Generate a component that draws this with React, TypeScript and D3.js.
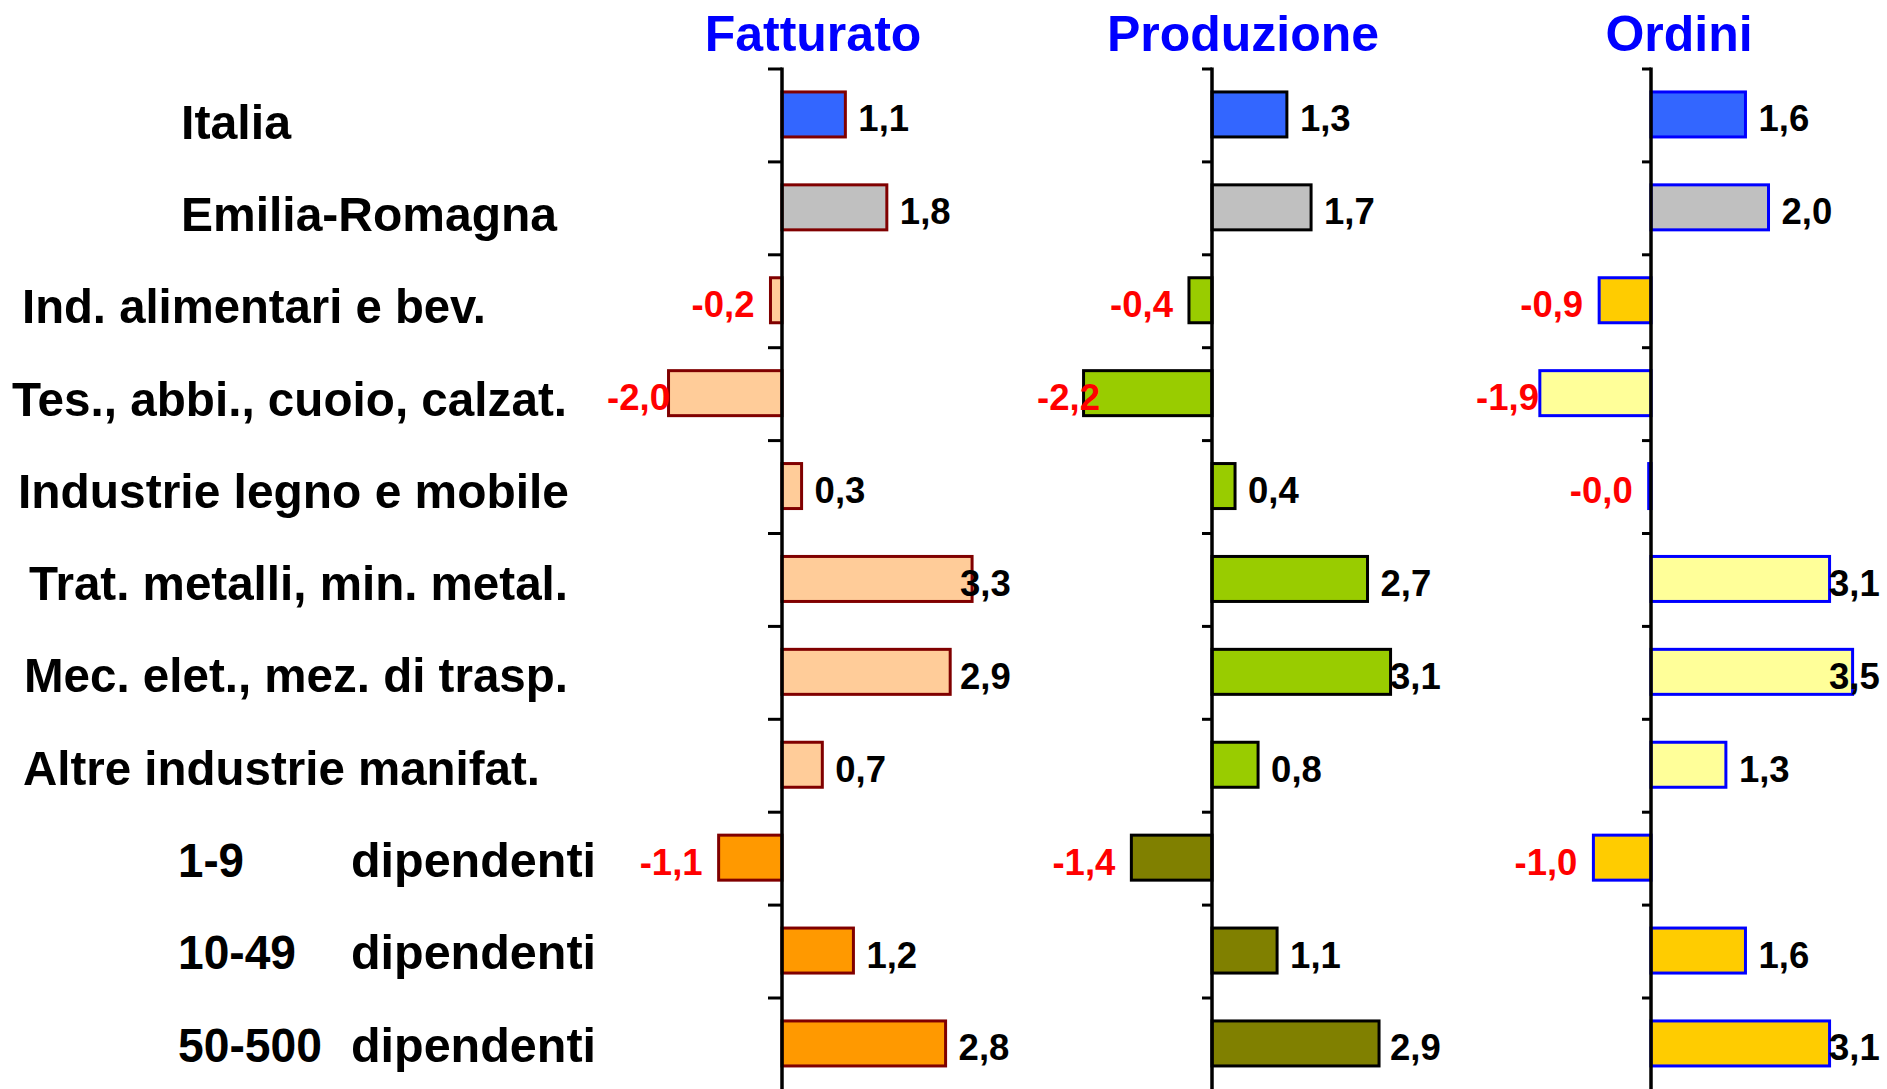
import * as d3 from 'd3'
import { FC } from 'react'

// categories (rows, top to bottom)
const categories: string[] = [
    'Italia',
    'Emilia-Romagna',
    'Ind. alimentari e bev.',
    'Tes., abbi., cuoio, calzat.',
    'Industrie legno e mobile',
    'Trat. metalli, min. metal.',
    'Mec. elet., mez. di trasp.',
    'Altre industrie manifat.',
    '1-9',
    '10-49',
    '50-500',
]
const sizeSuffix = 'dipendenti'

// series values (% change)
const fatturato: number[] = [1.1, 1.82, -0.2, -1.97, 0.34, 3.3, 2.92, 0.7, -1.1, 1.24, 2.84]
const produzione: number[] = [1.3, 1.72, -0.4, -2.23, 0.4, 2.7, 3.1, 0.8, -1.4, 1.13, 2.9]
const ordini: number[] = [1.64, 2.04, -0.9, -1.93, -0.04, 3.1, 3.5, 1.3, -1.0, 1.64, 3.1]

const titles: string[] = ['Fatturato', 'Produzione', 'Ordini']

// fill colours per row
const fatturatoFill = ['#3366FF', '#C0C0C0', '#FFCC99', '#FFCC99', '#FFCC99', '#FFCC99', '#FFCC99', '#FFCC99', '#FF9900', '#FF9900', '#FF9900']
const produzioneFill = ['#3366FF', '#C0C0C0', '#99CC00', '#99CC00', '#99CC00', '#99CC00', '#99CC00', '#99CC00', '#808000', '#808000', '#808000']
const ordiniFill = ['#3366FF', '#C0C0C0', '#FFCC00', '#FFFF99', '#FFFF99', '#FFFF99', '#FFFF99', '#FFFF99', '#FFCC00', '#FFCC00', '#FFCC00']

const W = 1887
const H = 1089
const FONT = '"Liberation Sans", Arial, sans-serif'
const PX_PER_UNIT = 57.6

// label geometry (x start, x end) for each row label
const labelBox: [number, number][] = [
    [181, 291], [181, 557], [22, 486], [12, 567], [18, 569], [29, 568],
    [24, 568], [23, 540], [178, 244], [178, 296], [178, 322],
]
const suffixBox: [number, number] = [351, 596]

const panels = [
    { title: titles[0], values: fatturato, fills: fatturatoFill, axisX: 782, titleX: 813, stroke: '#800000', tick: 14 },
    { title: titles[1], values: produzione, fills: produzioneFill, axisX: 1212, titleX: 1243, stroke: '#000000', tick: 10 },
    { title: titles[2], values: ordini, fills: ordiniFill, axisX: 1651, titleX: 1679, stroke: '#0000FF', tick: 9 },
]

const fmt = (v: number) => (v < 0 ? '-' : '') + Math.abs(v).toFixed(1).replace('.', ',')

const App: FC = () => {
    const top = 69
    const step = 92.9
    // bars / ticks
    const y = d3.scaleBand<number>()
        .domain(d3.range(categories.length))
        .range([top, top + step * categories.length])
    // row labels sit in a separate text box with slightly tighter spacing
    const yLabel = d3.scaleBand<number>()
        .domain(d3.range(categories.length))
        .range([top, top + 92.3 * categories.length])
    const barH = 45
    const boundaries = d3.range(categories.length + 1).map(i => top + i * step)

    return (
        <svg width={W} height={H} style={{ position: 'absolute', left: 0, top: 0, background: '#fff' }}>
            {/* row labels */}
            {categories.map((c, i) => {
                const cy = yLabel(i)! + yLabel.bandwidth() / 2
                const [x0, x1] = labelBox[i]
                return (
                    <g key={c} fontFamily={FONT} fontWeight="bold" fontSize={49} fill="#000">
                        <text x={x0} y={cy + 23.5} textLength={x1 - x0} lengthAdjust="spacingAndGlyphs">{c}</text>
                        {i >= 8 && (
                            <text x={suffixBox[0]} y={cy + 23.5} textLength={suffixBox[1] - suffixBox[0]} lengthAdjust="spacingAndGlyphs">{sizeSuffix}</text>
                        )}
                    </g>
                )
            })}

            {panels.map(p => {
                const x = d3.scaleLinear()
                    .domain([-2.5, 3.5])
                    .range([p.axisX - 2.5 * PX_PER_UNIT, p.axisX + 3.5 * PX_PER_UNIT])
                const labelMax = x(3.09)
                const labelMin = x(-1.945)
                return (
                    <g key={p.title}>
                        <text x={p.titleX} y={51} textAnchor="middle" fontFamily={FONT} fontWeight="bold" fontSize={50} fill="#0000FF">{p.title}</text>
                        {p.values.map((v, i) => {
                            const cy = y(i)! + y.bandwidth() / 2
                            const x0 = Math.min(x(0), x(v))
                            const w = Math.abs(x(v) - x(0))
                            const neg = v < 0
                            const lx = neg ? Math.max(x(v) - 16, labelMin) : Math.min(x(v) + 13, labelMax)
                            return (
                                <g key={i}>
                                    <rect x={x0} y={cy - barH / 2 - 1} width={w} height={barH} fill={p.fills[i]} stroke={p.stroke} strokeWidth={3} />
                                    <text x={lx} y={cy + 16} textAnchor={neg ? 'end' : 'start'} fontFamily={FONT} fontWeight="bold" fontSize={36.5} fill={neg ? '#FF0000' : '#000000'}>{fmt(v)}</text>
                                </g>
                            )
                        })}
                        <line x1={x(0)} x2={x(0)} y1={top - 1.5} y2={H} stroke="#000" strokeWidth={3.5} />
                        {boundaries.map((b, k) => (
                            <line key={k} x1={x(0) - p.tick} x2={x(0)} y1={b} y2={b} stroke="#000" strokeWidth={3} />
                        ))}
                    </g>
                )
            })}
        </svg>
    )
}

export default App
